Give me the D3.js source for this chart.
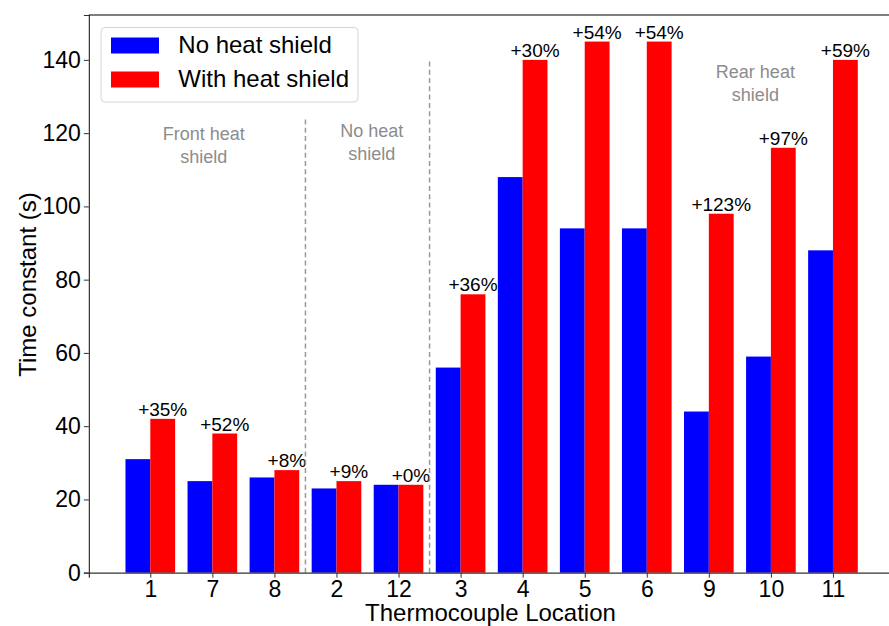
<!DOCTYPE html>
<html>
<head>
<meta charset="utf-8">
<script src="https://cdn.jsdelivr.net/npm/d3@7"></script>
<style>
  html, body { margin: 0; padding: 0; background: #fff; }
  svg { display: block; font-family: Arial, "Liberation Sans", sans-serif; }
</style>
</head>
<body>
<svg id="chart" width="889" height="626"></svg>
<script>
// Thermocouple locations, in plotting order
const locations = ["1", "7", "8", "2", "12", "3", "4", "5", "6", "9", "10", "11"];
// Time constants (s)
const noShield   = [31, 25, 26, 23, 24, 56, 108, 94, 94, 44, 59, 88];
const withShield = [42, 38, 28, 25, 24, 76, 140, 145, 145, 98, 116, 140];
const seriesNames = ["No heat shield", "With heat shield"];
const seriesColors = ["#0000ff", "#ff0000"];
const yTicks = [0, 20, 40, 60, 80, 100, 120, 140];

// Region separators (position between groups, top value) and region captions
const separators = [{ at: 2.5, top: 124.4 }, { at: 4.5, top: 140 }];
const regionLabels = [
  { at: 0.86, value: 118.1, lines: ["Front heat", "shield"] },
  { at: 3.57, value: 118.9, lines: ["No heat", "shield"] },
  { at: 9.75, value: 135,   lines: ["Rear heat", "shield"] }
];

const svg = d3.select("#chart");
const barW = 0.4;
const idx = d3.range(locations.length);

// Group positions: first group centred at 150.3, 62.06 px per group
const step = 62.06, x0 = 150.3;
const xLo = -0.4 - 0.59, xHi = 11.4 + 0.59;
const x = d3.scaleLinear()
  .domain([xLo, xHi])
  .range([x0 + xLo * step, x0 + xHi * step]);
const y = d3.scaleLinear().domain([0, 152.25]).range([572.7, 15]);

const g = svg.append("g");

// Bars
const series = [noShield, withShield];
series.forEach((vals, s) => {
  g.selectAll(null).data(idx).enter().append("rect")
    .attr("x", i => x(i + (s === 0 ? -barW : 0)))
    .attr("width", i => x(i + barW) - x(i))
    .attr("y", i => y(vals[i]))
    .attr("height", i => y(0) - y(vals[i]))
    .attr("fill", seriesColors[s]);
});

// Percentage increase labels above the red bars
g.selectAll(null).data(idx).enter().append("text")
  .attr("x", i => x(i + barW / 2))
  .attr("y", i => y(withShield[i]) - 3)
  .attr("text-anchor", "middle")
  .attr("font-size", 19)
  .attr("fill", "#000")
  .text(i => "+" + Math.round((withShield[i] / noShield[i] - 1) * 100) + "%");

// Dashed separators
g.selectAll(null).data(separators).enter().append("line")
  .attr("x1", d => x(d.at)).attr("x2", d => x(d.at))
  .attr("y1", y(0)).attr("y2", d => y(d.top))
  .attr("stroke", "#999").attr("stroke-width", 1.5)
  .attr("stroke-dasharray", "5,3.3");

// Region captions
regionLabels.forEach(r => {
  const t = g.append("text")
    .attr("text-anchor", "middle")
    .attr("font-size", 18)
    .attr("fill", "#8c8c8c");
  r.lines.forEach((ln, k) => {
    t.append("tspan")
      .attr("x", x(r.at))
      .attr("y", y(r.value) + k * 22.5)
      .text(ln);
  });
});

// Axes
const xAxis = d3.axisBottom(x)
  .tickValues(idx)
  .tickFormat(i => locations[i])
  .tickSizeOuter(0).tickSize(5).tickPadding(3);
const gx = svg.append("g").attr("transform", `translate(0,${y(0)})`).call(xAxis);
gx.select(".domain").attr("stroke", "#333").attr("stroke-width", 1.2);
gx.selectAll(".tick line").attr("stroke", "#333");
gx.selectAll(".tick text").attr("font-size", 23).attr("fill", "#000")
  .attr("font-family", "Arial, 'Liberation Sans', sans-serif");

const yAxis = d3.axisLeft(y).tickValues(yTicks).tickSizeOuter(0).tickSize(5).tickPadding(3);
const gy = svg.append("g").attr("transform", `translate(${x.range()[0]},0)`).call(yAxis);
gy.select(".domain").attr("stroke", "#333").attr("stroke-width", 1.2);
gy.selectAll(".tick line").attr("stroke", "#333");
gy.selectAll(".tick text").attr("font-size", 23).attr("fill", "#000")
  .attr("font-family", "Arial, 'Liberation Sans', sans-serif");

// Top spine
svg.append("line")
  .attr("x1", x.range()[0]).attr("x2", x.range()[1])
  .attr("y1", y.range()[1]).attr("y2", y.range()[1])
  .attr("stroke", "#000").attr("stroke-width", 1.2);

// Axis titles
svg.append("text")
  .attr("x", 490.5).attr("y", 621)
  .attr("text-anchor", "middle").attr("font-size", 24)
  .text("Thermocouple Location");
svg.append("text")
  .attr("transform", "translate(36,284.5) rotate(-90)")
  .attr("text-anchor", "middle").attr("font-size", 24)
  .text("Time constant (s)");

// Legend
const lg = svg.append("g").attr("transform", "translate(101,27.5)");
lg.append("rect").attr("width", 257).attr("height", 74.5).attr("rx", 4)
  .attr("fill", "#fff").attr("fill-opacity", 0.8)
  .attr("stroke", "#d6d6d6").attr("stroke-width", 1);
seriesNames.forEach((name, s) => {
  lg.append("rect").attr("x", 10).attr("y", 10 + s * 34)
    .attr("width", 48).attr("height", 16).attr("fill", seriesColors[s]);
  lg.append("text").attr("x", 77.3).attr("y", 25.3 + s * 34.3)
    .attr("font-size", 24).text(name);
});
</script>
</body>
</html>
